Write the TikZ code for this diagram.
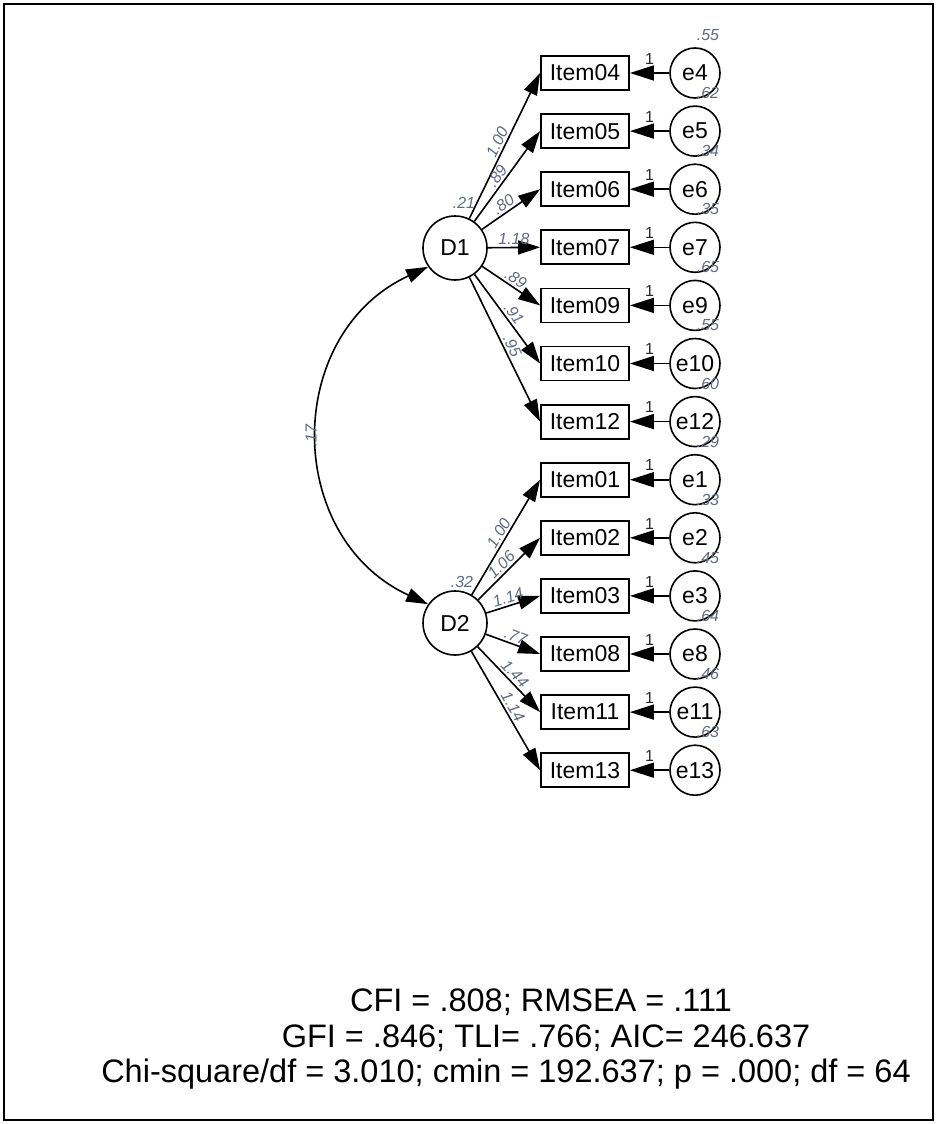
\documentclass[tikz,border=0pt]{standalone}
\usepackage{fontspec}
\setmainfont{Liberation Sans}
\usetikzlibrary{arrows.meta}
\definecolor{labelc}{RGB}{95,105,130}
\begin{document}
\begin{tikzpicture}[x=1pt,y=-1pt,
  item/.style={draw,line width=1.8pt,minimum width=88pt,minimum height=34pt,inner sep=0pt,font=\fontsize{23}{23}\selectfont},
  lat/.style={draw,circle,line width=1.6pt,minimum size=64pt,inner sep=0pt,font=\fontsize{23}{23}\selectfont},
  err/.style={draw,circle,line width=1.6pt,minimum size=50pt,inner sep=0pt,font=\fontsize{23}{23}\selectfont},
  load/.style={line width=1.6pt,-{Triangle[length=22pt,width=14pt]}},
  erra/.style={line width=1.6pt,-{Triangle[length=24pt,width=15pt]}},
  cov/.style={line width=1.6pt,{Triangle[length=22pt,width=14pt]}-{Triangle[length=22pt,width=14pt]}},
  coef/.style={font=\fontsize{16}{16}\selectfont\itshape,text=labelc,inner sep=2pt},
  one/.style={font=\fontsize{16}{16}\selectfont,text=black!85,inner sep=1pt},
  fit/.style={font=\fontsize{32.5}{32.5}\selectfont,anchor=base,inner sep=0pt},
]
\useasboundingbox (0,0) rectangle (937,1124);
\draw[line width=1.8pt] (4,4) rectangle (933,1120);

% latent variables
\node[lat] (D1) at (455,248) {D1};
\node[lat] (D2) at (455,623) {D2};

% items and errors
\foreach \it/\er/\v [count=\i from 0] in {04/4/.55,05/5/.62,06/6/.34,07/7/.35,09/9/.65,10/10/.55,12/12/.60,01/1/.29,02/2/.33,03/3/.45,08/8/.64,11/11/.46,13/13/.63}{
  \pgfmathsetmacro{\yy}{73+58.1*\i}
  \node[item] (I\it) at (585,\yy) {Item\it};
  \node[err] (e\er) at (695,\yy) {e\er};
  \node[coef] (v\er) at (708,\yy-38) {\v};
  \draw[erra] (e\er) -- node[one,above=7pt,pos=0.5]{1} (I\it.east);
}

% loadings D1
\draw[load] (D1) -- node[coef,sloped,above,pos=0.5]{1.00} (I04.west);
\draw[load] (D1) -- node[coef,sloped,above,pos=0.45]{.89} (I05.west);
\draw[load] (D1) -- node[coef,sloped,above,pos=0.45]{.80} (I06.west);
\draw[load] (D1) -- node[coef,sloped,above,pos=0.5]{1.18} (I07.west);
\draw[load] (D1) -- node[coef,sloped,above,pos=0.5]{.89} (I09.west);
\draw[load] (D1) -- node[coef,sloped,above,pos=0.5]{.91} (I10.west);
\draw[load] (D1) -- node[coef,sloped,above,pos=0.5]{.95} (I12.west);

% loadings D2
\draw[load] (D2) -- node[coef,sloped,above,pos=0.5]{1.00} (I01.west);
\draw[load] (D2) -- node[coef,sloped,above,pos=0.47]{1.06} (I02.west);
\draw[load] (D2) -- node[coef,sloped,above,pos=0.45]{1.14} (I03.west);
\draw[load] (D2) -- node[coef,sloped,above,pos=0.5]{.77} (I08.west);
\draw[load] (D2) -- node[coef,sloped,above,pos=0.5]{1.44} (I11.west);
\draw[load] (D2) -- node[coef,sloped,above,pos=0.5]{1.14} (I13.west);

% latent variances
\node[coef] (vD1) at (464,203) {.21};
\node[coef] (vD2) at (462,582) {.32};

% covariance
\draw[cov] (D1.215) .. controls +(-145,67) and +(-145,-67) .. node[coef,pos=0.5,rotate=90,anchor=south]{.17} (D2.145);

% fit indices
\node[fit] (f1) at (541,1011) {CFI = .808; RMSEA = .111};
\node[fit] (f2) at (546,1047) {GFI = .846; TLI= .766; AIC= 246.637};
\node[fit] (f3) at (506,1082) {Chi-square/df = 3.010; cmin = 192.637; p = .000; df = 64};
\end{tikzpicture}
\end{document}
